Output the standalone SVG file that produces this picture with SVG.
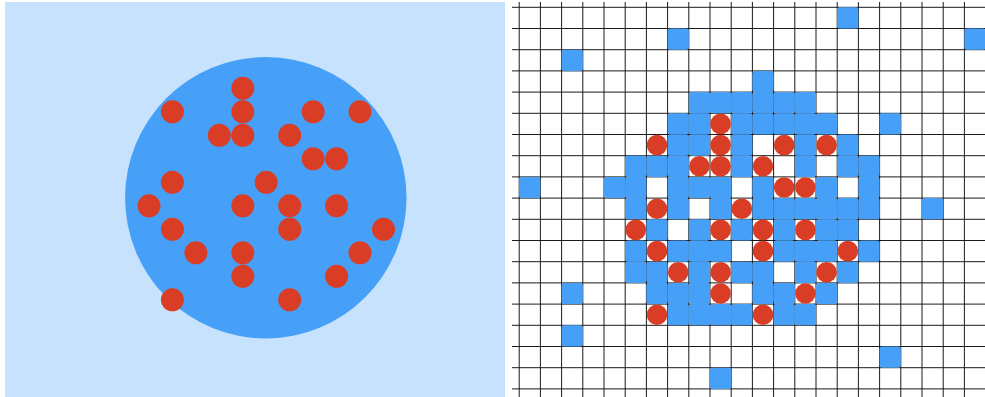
<svg xmlns="http://www.w3.org/2000/svg" xmlns:xlink="http://www.w3.org/1999/xlink" width="985" height="397" viewBox="0 0 985 397">
<style>
.bg{fill:#c6e2fc}
.blue{fill:#47a0f8}
.red{fill:#da3d26}
.grid{fill:none;stroke:#1a1a1a;stroke-width:1}
</style>
<defs>
<rect id="cell" width="21.2" height="21.2" rx="3"/>
<clipPath id="gclip"><rect x="512" y="2" width="473" height="395"/></clipPath>
</defs>
<rect width="985" height="397" fill="#ffffff"/>
<g id="left-panel">
<rect class="bg" x="5" y="2" width="500" height="395"/>
<circle id="disk" class="blue" cx="265.8" cy="197.8" r="140.7"/>
<g id="left-dots" class="red">
<circle cx="242.8" cy="88.3" r="11.5"/>
<circle cx="172.4" cy="111.8" r="11.5"/>
<circle cx="242.8" cy="111.8" r="11.5"/>
<circle cx="313.1" cy="111.8" r="11.5"/>
<circle cx="360" cy="111.8" r="11.5"/>
<circle cx="219.3" cy="135.3" r="11.5"/>
<circle cx="242.8" cy="135.3" r="11.5"/>
<circle cx="289.7" cy="135.3" r="11.5"/>
<circle cx="313.1" cy="158.8" r="11.5"/>
<circle cx="336.6" cy="158.8" r="11.5"/>
<circle cx="172.4" cy="182.3" r="11.5"/>
<circle cx="266.2" cy="182.3" r="11.5"/>
<circle cx="149" cy="205.8" r="11.5"/>
<circle cx="242.8" cy="205.8" r="11.5"/>
<circle cx="289.7" cy="205.8" r="11.5"/>
<circle cx="336.6" cy="205.8" r="11.5"/>
<circle cx="172.4" cy="229.3" r="11.5"/>
<circle cx="289.7" cy="229.3" r="11.5"/>
<circle cx="383.5" cy="229.3" r="11.5"/>
<circle cx="195.9" cy="252.8" r="11.5"/>
<circle cx="242.8" cy="252.8" r="11.5"/>
<circle cx="360" cy="252.8" r="11.5"/>
<circle cx="242.8" cy="276.3" r="11.5"/>
<circle cx="336.6" cy="276.3" r="11.5"/>
<circle cx="172.4" cy="299.8" r="11.5"/>
<circle cx="289.7" cy="299.8" r="11.5"/>
</g>
</g>
<g id="right-panel" clip-path="url(#gclip)">
<rect x="512" y="2" width="473" height="395" fill="#ffffff"/>
<path id="grid" class="grid" d="M519.2 2V397M540.4 2V397M561.6 2V397M582.8 2V397M604 2V397M625.2 2V397M646.4 2V397M667.6 2V397M688.8 2V397M710 2V397M731.2 2V397M752.4 2V397M773.6 2V397M794.8 2V397M816 2V397M837.2 2V397M858.4 2V397M879.6 2V397M900.8 2V397M922 2V397M943.2 2V397M964.4 2V397M512 7.3H985M512 28.5H985M512 49.7H985M512 70.9H985M512 92.1H985M512 113.3H985M512 134.5H985M512 155.7H985M512 176.9H985M512 198.1H985M512 219.3H985M512 240.5H985M512 261.7H985M512 282.9H985M512 304.1H985M512 325.3H985M512 346.5H985M512 367.7H985M512 388.9H985"/>
<g id="cells" class="blue">
<use href="#cell" x="837.2" y="7.3"/>
<use href="#cell" x="667.6" y="28.5"/>
<use href="#cell" x="964.4" y="28.5"/>
<use href="#cell" x="561.6" y="49.7"/>
<use href="#cell" x="752.4" y="70.9"/>
<use href="#cell" x="688.8" y="92.1"/>
<use href="#cell" x="710" y="92.1"/>
<use href="#cell" x="731.2" y="92.1"/>
<use href="#cell" x="752.4" y="92.1"/>
<use href="#cell" x="773.6" y="92.1"/>
<use href="#cell" x="794.8" y="92.1"/>
<use href="#cell" x="667.6" y="113.3"/>
<use href="#cell" x="688.8" y="113.3"/>
<use href="#cell" x="731.2" y="113.3"/>
<use href="#cell" x="752.4" y="113.3"/>
<use href="#cell" x="773.6" y="113.3"/>
<use href="#cell" x="794.8" y="113.3"/>
<use href="#cell" x="816" y="113.3"/>
<use href="#cell" x="879.6" y="113.3"/>
<use href="#cell" x="667.6" y="134.5"/>
<use href="#cell" x="688.8" y="134.5"/>
<use href="#cell" x="731.2" y="134.5"/>
<use href="#cell" x="794.8" y="134.5"/>
<use href="#cell" x="837.2" y="134.5"/>
<use href="#cell" x="625.2" y="155.7"/>
<use href="#cell" x="646.4" y="155.7"/>
<use href="#cell" x="667.6" y="155.7"/>
<use href="#cell" x="731.2" y="155.7"/>
<use href="#cell" x="794.8" y="155.7"/>
<use href="#cell" x="837.2" y="155.7"/>
<use href="#cell" x="858.4" y="155.7"/>
<use href="#cell" x="519.2" y="176.9"/>
<use href="#cell" x="604" y="176.9"/>
<use href="#cell" x="625.2" y="176.9"/>
<use href="#cell" x="667.6" y="176.9"/>
<use href="#cell" x="688.8" y="176.9"/>
<use href="#cell" x="710" y="176.9"/>
<use href="#cell" x="752.4" y="176.9"/>
<use href="#cell" x="816" y="176.9"/>
<use href="#cell" x="858.4" y="176.9"/>
<use href="#cell" x="625.2" y="198.1"/>
<use href="#cell" x="667.6" y="198.1"/>
<use href="#cell" x="710" y="198.1"/>
<use href="#cell" x="752.4" y="198.1"/>
<use href="#cell" x="773.6" y="198.1"/>
<use href="#cell" x="794.8" y="198.1"/>
<use href="#cell" x="816" y="198.1"/>
<use href="#cell" x="837.2" y="198.1"/>
<use href="#cell" x="858.4" y="198.1"/>
<use href="#cell" x="922" y="198.1"/>
<use href="#cell" x="646.4" y="219.3"/>
<use href="#cell" x="688.8" y="219.3"/>
<use href="#cell" x="731.2" y="219.3"/>
<use href="#cell" x="773.6" y="219.3"/>
<use href="#cell" x="816" y="219.3"/>
<use href="#cell" x="837.2" y="219.3"/>
<use href="#cell" x="625.2" y="240.5"/>
<use href="#cell" x="667.6" y="240.5"/>
<use href="#cell" x="688.8" y="240.5"/>
<use href="#cell" x="710" y="240.5"/>
<use href="#cell" x="773.6" y="240.5"/>
<use href="#cell" x="794.8" y="240.5"/>
<use href="#cell" x="816" y="240.5"/>
<use href="#cell" x="858.4" y="240.5"/>
<use href="#cell" x="625.2" y="261.7"/>
<use href="#cell" x="646.4" y="261.7"/>
<use href="#cell" x="688.8" y="261.7"/>
<use href="#cell" x="731.2" y="261.7"/>
<use href="#cell" x="752.4" y="261.7"/>
<use href="#cell" x="794.8" y="261.7"/>
<use href="#cell" x="837.2" y="261.7"/>
<use href="#cell" x="561.6" y="282.9"/>
<use href="#cell" x="646.4" y="282.9"/>
<use href="#cell" x="667.6" y="282.9"/>
<use href="#cell" x="688.8" y="282.9"/>
<use href="#cell" x="752.4" y="282.9"/>
<use href="#cell" x="773.6" y="282.9"/>
<use href="#cell" x="816" y="282.9"/>
<use href="#cell" x="667.6" y="304.1"/>
<use href="#cell" x="688.8" y="304.1"/>
<use href="#cell" x="710" y="304.1"/>
<use href="#cell" x="731.2" y="304.1"/>
<use href="#cell" x="773.6" y="304.1"/>
<use href="#cell" x="794.8" y="304.1"/>
<use href="#cell" x="561.6" y="325.3"/>
<use href="#cell" x="879.6" y="346.5"/>
<use href="#cell" x="710" y="367.7"/>
</g>
<g id="right-dots" class="red">
<circle cx="720.6" cy="123.9" r="10.3"/>
<circle cx="657" cy="145.1" r="10.3"/>
<circle cx="720.6" cy="145.1" r="10.3"/>
<circle cx="784.2" cy="145.1" r="10.3"/>
<circle cx="826.6" cy="145.1" r="10.3"/>
<circle cx="699.4" cy="166.3" r="10.3"/>
<circle cx="720.6" cy="166.3" r="10.3"/>
<circle cx="763" cy="166.3" r="10.3"/>
<circle cx="784.2" cy="187.5" r="10.3"/>
<circle cx="805.4" cy="187.5" r="10.3"/>
<circle cx="657" cy="208.7" r="10.3"/>
<circle cx="741.8" cy="208.7" r="10.3"/>
<circle cx="635.8" cy="229.9" r="10.3"/>
<circle cx="720.6" cy="229.9" r="10.3"/>
<circle cx="763" cy="229.9" r="10.3"/>
<circle cx="805.4" cy="229.9" r="10.3"/>
<circle cx="657" cy="251.1" r="10.3"/>
<circle cx="763" cy="251.1" r="10.3"/>
<circle cx="847.8" cy="251.1" r="10.3"/>
<circle cx="678.2" cy="272.3" r="10.3"/>
<circle cx="720.6" cy="272.3" r="10.3"/>
<circle cx="826.6" cy="272.3" r="10.3"/>
<circle cx="720.6" cy="293.5" r="10.3"/>
<circle cx="805.4" cy="293.5" r="10.3"/>
<circle cx="657" cy="314.7" r="10.3"/>
<circle cx="763" cy="314.7" r="10.3"/>
</g>
</g>
</svg>
